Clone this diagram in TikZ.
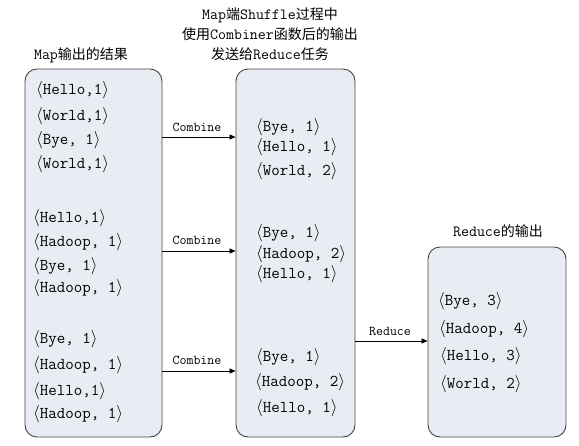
\documentclass[tikz,border=0pt]{standalone}
\usepackage{fontspec}
\setmonofont{Latin Modern Mono}
\newfontfamily\cjk{Noto Sans CJK SC}
\usetikzlibrary{arrows.meta}
\definecolor{boxfill}{HTML}{E8EDF4}
\definecolor{boxline}{HTML}{454545}
\newcommand{\kv}[1]{$\langle$#1$\rangle$}
\newcommand{\zh}[1]{{\cjk\fontsize{14}{19}\selectfont #1}}
\tikzset{
  panel/.style={draw=boxline, line width=0.9pt, fill=boxfill, rounded corners=12pt, inner sep=0pt},
  item/.style={anchor=west, inner sep=0pt, font=\ttfamily\fontsize{16.5}{16.5}\selectfont},
  ttl/.style={inner sep=0pt, font=\ttfamily\fontsize{15.5}{20}\selectfont, align=center},
  lbl/.style={inner sep=0pt, font=\ttfamily\fontsize{13.5}{13.5}\selectfont},
  arr/.style={-{Triangle[length=6pt,width=5pt]}, line width=0.8pt}
}
\begin{document}
\begin{tikzpicture}[x=1pt,y=-1pt]
\useasboundingbox (0,0) rectangle (579,445);
% panels
\node[panel, minimum width=137pt, minimum height=368pt] (L) at (93.5,253) {};
\node[panel, minimum width=119pt, minimum height=368pt] (M) at (295.5,253) {};
\node[panel, minimum width=138pt, minimum height=190pt] (R) at (497,342) {};
% titles
\node[ttl] (tL) at (81,55) {Map\zh{输出的结果}};
\node[ttl] (tM) at (270,34) {Map\zh{端}Shuffle\zh{过程中}\\\zh{使用}Combiner\zh{函数后的输出}\\\zh{发送给}Reduce\zh{任务}};
\node[ttl] (tR) at (498,231) {Reduce\zh{的输出}};
% left items
\node[item] (l1) at (36,90) {\kv{Hello,1}};
\node[item] (l2) at (36,116) {\kv{World,1}};
\node[item] (l3) at (36,140) {\kv{Bye, 1}};
\node[item] (l4) at (36,164) {\kv{World,1}};
\node[item] (l5) at (33,218) {\kv{Hello,1}};
\node[item] (l6) at (33,242) {\kv{Hadoop, 1}};
\node[item] (l7) at (33,266) {\kv{Bye, 1}};
\node[item] (l8) at (33,288) {\kv{Hadoop, 1}};
\node[item] (l9) at (33,339) {\kv{Bye, 1}};
\node[item] (l10) at (33,365) {\kv{Hadoop, 1}};
\node[item] (l11) at (33,391) {\kv{Hello,1}};
\node[item] (l12) at (33,414) {\kv{Hadoop, 1}};
% middle items
\node[item] (m1) at (256,127) {\kv{Bye, 1}};
\node[item] (m2) at (256,147) {\kv{Hello, 1}};
\node[item] (m3) at (256,171) {\kv{World, 2}};
\node[item] (m4) at (256,233) {\kv{Bye, 1}};
\node[item] (m5) at (256,254) {\kv{Hadoop, 2}};
\node[item] (m6) at (256,274) {\kv{Hello, 1}};
\node[item] (m7) at (256,357) {\kv{Bye, 1}};
\node[item] (m8) at (255,382) {\kv{Hadoop, 2}};
\node[item] (m9) at (256,408) {\kv{Hello, 1}};
% right items
\node[item] (r1) at (438,301) {\kv{Bye, 3}};
\node[item] (r2) at (439,329) {\kv{Hadoop, 4}};
\node[item] (r3) at (440,356) {\kv{Hello, 3}};
\node[item] (r4) at (440,384) {\kv{World, 2}};
% arrows
\draw[arr] (L.east |- 0,137) -- (M.west |- 0,137);
\draw[arr] (L.east |- 0,251) -- (M.west |- 0,251);
\draw[arr] (L.east |- 0,371) -- (M.west |- 0,371);
\draw[arr] (M.east |- 0,341) -- (R.west |- 0,341);
\node[lbl] (c1) at (197,127) {Combine};
\node[lbl] (c2) at (197,240) {Combine};
\node[lbl] (c3) at (197,360) {Combine};
\node[lbl] (c4) at (390,331) {Reduce};
\end{tikzpicture}
\end{document}
